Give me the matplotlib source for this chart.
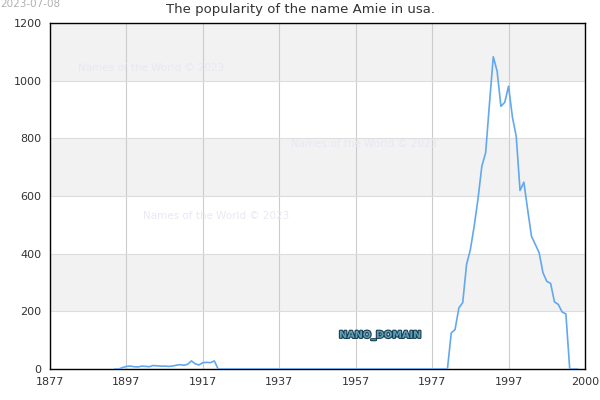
import matplotlib
matplotlib.use('Agg')
import matplotlib.pyplot as plt
import matplotlib.patheffects as pe

# 数据
years = list(range(1894, 2016))
counts = [0, 0, 5, 9, 10, 8, 7, 10, 9, 8, 12, 11, 10, 10, 9, 10, 13, 15, 13, 16,
          28, 18, 14, 22, 23, 22, 28,
          0, 0, 0, 0, 0, 0, 0, 0, 0, 0, 0, 0, 0, 0, 0, 0, 0, 0, 0, 0,
          0, 0, 0, 0, 0, 0, 0, 0, 0, 0, 0, 0, 0, 0, 0, 0, 0, 0, 0, 0,
          0, 0, 0, 0, 0, 0, 0, 0, 0, 0, 0, 0, 0, 0, 0, 0, 0, 0, 0, 0,
          0, 125, 137, 212, 230, 362, 414, 495, 590, 703, 750, 920, 1083, 1033,
          911, 925, 981, 874, 807, 619, 648, 552, 460, 432, 403, 334, 304, 297,
          233, 224, 198, 191, 0, 0, 0]

x_ticks = [1877, 1897, 1917, 1937, 1957, 1977, 1997, 2017]
x_tick_labels = ['1877', '1897', '1917', '1937', '1957', '1977', '1997', '2000']
y_ticks = [0, 200, 400, 600, 800, 1000, 1200]

fig = plt.figure(figsize=(6, 4), dpi=100)
ax = fig.add_axes([50/600, 1 - 369/400, 535/600, 346/400])

# 灰白相间的背景条
for lo in range(200, 1200, 400):
    ax.axhspan(lo, lo + 200, color='#f2f2f2', zorder=0, lw=0)

ax.plot(years, counts, color='#62a8f0', linewidth=1.2, zorder=3)

ax.set_xlim(1877, 2017)
ax.set_ylim(0, 1200)
ax.set_xticks(x_ticks)
ax.set_xticklabels(x_tick_labels)
ax.set_yticks(y_ticks)
ax.tick_params(length=0, labelsize=8, colors='#333333', pad=6)
ax.grid(axis='y', color='#dddddd', linewidth=0.8, zorder=1)
ax.grid(axis='x', color='#cccccc', linewidth=0.8, zorder=1)
ax.set_axisbelow(True)
for s in ax.spines.values():
    s.set_color('black')
    s.set_linewidth(1.0)

fig.text(0.5, 1 - 10/400, 'The popularity of the name Amie in usa.',
         ha='center', va='center', fontsize=9.5, color='#333333')
fig.text(0.0, 1 - 4/400, '2023-07-08', ha='left', va='center',
         fontsize=7.5, color='#b0b0b0')

# 水印
for wx, wy in [(78, 68), (291, 144), (143, 216)]:
    fig.text(wx/600, 1 - wy/400, 'Names of the World © 2023', ha='left',
             va='center', fontsize=7.5, color='#e8e8f6')

fig.text(380/600, 1 - 335/400, 'NANO_DOMAIN', ha='center', va='center',
         fontsize=7, fontweight='bold', color='#5e9fb8',
         path_effects=[pe.withStroke(linewidth=1.6, foreground='#1a3f52')])

fig.savefig('out.png', dpi=100)
